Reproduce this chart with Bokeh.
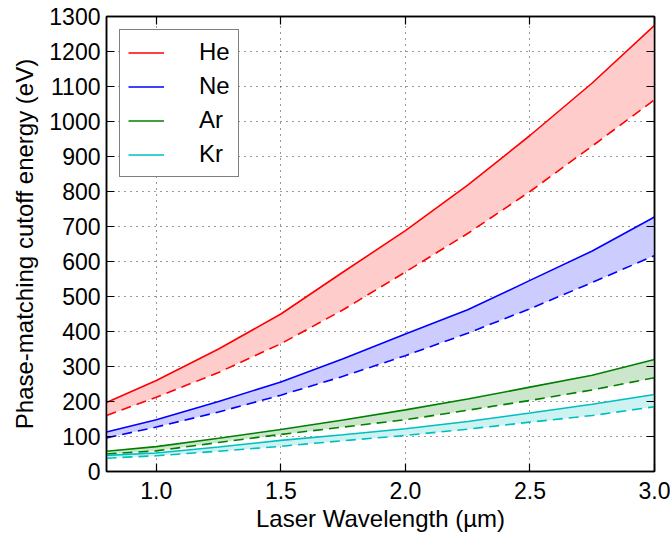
from bokeh.plotting import figure
from bokeh.models import LinearAxis, FixedTicker, Range1d, Legend, LegendItem, CustomJSTickFormatter
from bokeh.embed import file_html
from bokeh.resources import INLINE

# Laser wavelength (um)
wavelength = [0.8, 1.0, 1.25, 1.5, 1.75, 2.0, 2.25, 2.5, 2.75, 3.0]

# Phase-matching cutoff energy (eV): upper (solid) and lower (dashed) bounds
he_upper = [197, 260, 350, 450, 570, 688, 818, 960, 1110, 1275]
he_lower = [160, 212, 283, 365, 462, 570, 680, 800, 930, 1062]
ne_upper = [113, 148, 200, 256, 322, 393, 462, 546, 630, 727]
ne_lower = [96, 127, 170, 218, 272, 331, 395, 465, 540, 617]
ar_upper = [58, 71, 95, 120, 147, 176, 207, 241, 275, 320]
ar_lower = [50, 59, 83, 106, 127, 148, 175, 203, 233, 268]
kr_upper = [46, 53, 70, 89, 105, 122, 143, 167, 192, 220]
kr_lower = [38, 45, 58, 72, 88, 103, 121, 141, 160, 185]

gases = ["He", "Ne", "Ar", "Kr"]
colors = ["#ff0000", "#0000ff", "#008000", "#00bfbf"]
fills = ["#ffcccc", "#ccccff", "#cce6cc", "#ccf2f2"]
uppers = [he_upper, ne_upper, ar_upper, kr_upper]
lowers = [he_lower, ne_lower, ar_lower, kr_lower]

x_ticks = [1.0, 1.5, 2.0, 2.5, 3.0]
y_ticks = list(range(0, 1301, 100))

FONT = "Liberation Sans"

p = figure(output_backend="svg", toolbar_location=None,
           frame_width=548, frame_height=455,
           min_border_left=106, min_border_right=16,
           min_border_top=16, min_border_bottom=64,
           x_range=Range1d(0.8, 3.0), y_range=Range1d(0, 1300),
           background_fill_color="white", border_fill_color="white")

p.outline_line_color = "black"
p.outline_line_width = 1.5

# fills
for up, lo, fc in zip(uppers, lowers, fills):
    p.varea(x=wavelength, y1=lo, y2=up, fill_color=fc, fill_alpha=1.0)

items = []
for g, up, lo, c in zip(gases, uppers, lowers, colors):
    r = p.line(wavelength, up, line_color=c, line_width=1.6)
    p.line(wavelength, lo, line_color=c, line_width=1.6, line_dash="10 6")
    items.append(LegendItem(label=g, renderers=[r]))

# grid
for grid in (p.xgrid, p.ygrid):
    grid.grid_line_color = "black"
    grid.grid_line_dash = "1 5"
    grid.grid_line_width = 1
    grid.grid_line_alpha = 0.8
p.xgrid.ticker = FixedTicker(ticks=x_ticks)
p.ygrid.ticker = FixedTicker(ticks=y_ticks)

def style_axis(ax, ticks, labels=True):
    ax.ticker = FixedTicker(ticks=ticks)
    ax.axis_line_color = "black"
    ax.axis_line_width = 1.5
    ax.major_tick_in = 8
    ax.major_tick_out = 0
    ax.major_tick_line_color = "black"
    ax.major_tick_line_width = 1.2
    ax.minor_tick_line_color = None
    ax.major_label_text_font = FONT
    ax.major_label_text_color = "black"
    ax.major_label_text_font_size = "23px"
    if not labels:
        ax.formatter = CustomJSTickFormatter(code="return '';")
        ax.major_label_standoff = 0

xa = p.xaxis[0]
ya = p.yaxis[0]
style_axis(xa, x_ticks)
style_axis(ya, y_ticks)
xa.major_label_overrides = {t: f"{t:.1f}" for t in x_ticks}
xa.major_label_standoff = 10
ya.major_label_standoff = 6
xa.axis_label = "Laser Wavelength (µm)"
ya.axis_label = "Phase-matching cutoff energy (eV)"
for ax in (xa, ya):
    ax.axis_label_text_font = FONT
    ax.axis_label_text_font_size = "24px"
    ax.axis_label_text_font_style = "normal"
    ax.axis_label_text_color = "black"
xa.axis_label_standoff = 3
ya.axis_label_standoff = 8

top = LinearAxis()
style_axis(top, x_ticks, labels=False)
p.add_layout(top, "above")
right = LinearAxis()
style_axis(right, y_ticks, labels=False)
p.add_layout(right, "right")

legend = Legend(items=items, location="top_left")
legend.margin = 13
legend.padding = 8
legend.spacing = 6
legend.glyph_width = 36
legend.glyph_height = 27
legend.label_height = 27
legend.label_standoff = 35
legend.label_text_font = FONT
legend.label_text_font_size = "24px"
legend.label_text_color = "black"
legend.border_line_color = "black"
legend.border_line_width = 1.5
legend.background_fill_color = "white"
legend.background_fill_alpha = 1.0
p.add_layout(legend, "center")

open("out.html", "w").write(file_html(p, INLINE))
